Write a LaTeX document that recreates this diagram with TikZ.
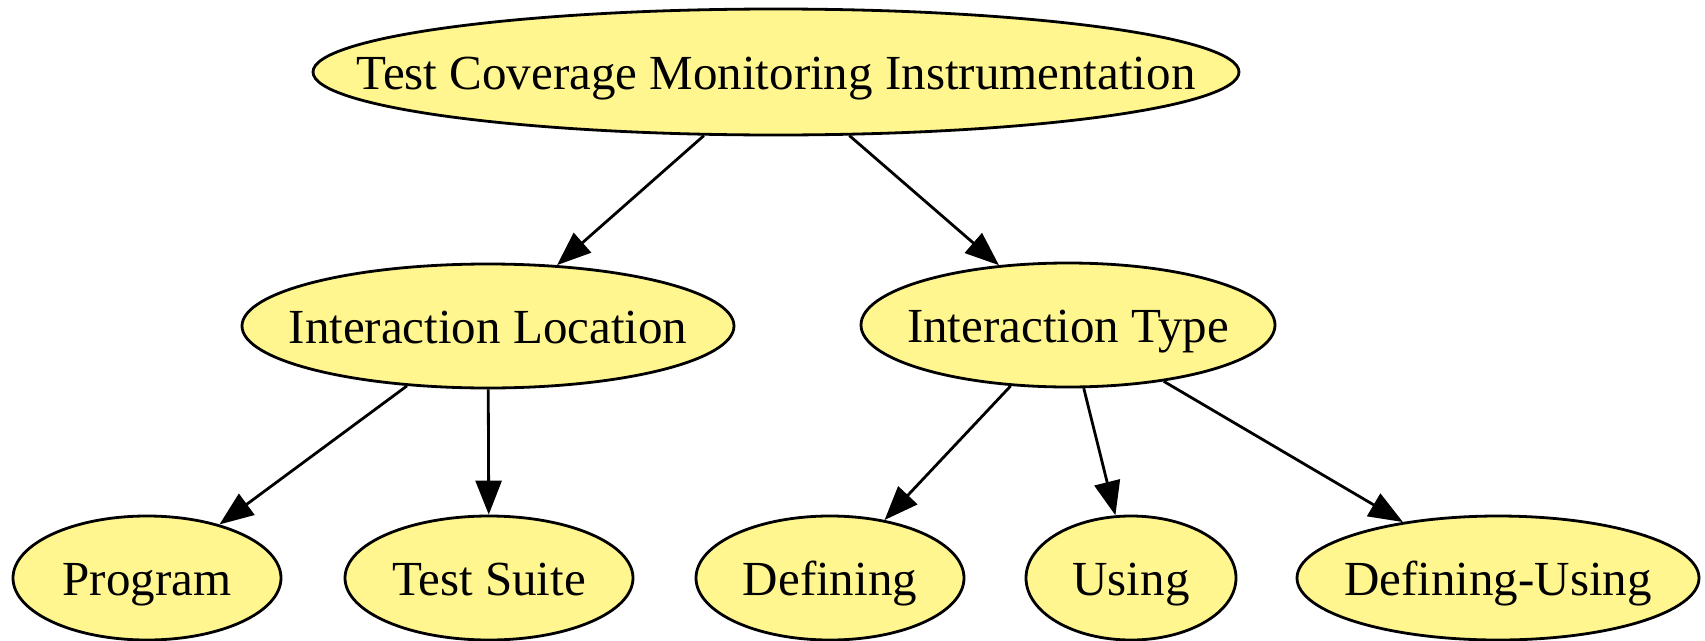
\documentclass[tikz,border=0pt]{standalone}
\usepackage{fontspec}
\setmainfont{Liberation Serif}
\usetikzlibrary{shapes.geometric,arrows.meta}
\definecolor{nodefill}{HTML}{FFF68F}
\tikzset{
  oval/.style n args={2}{ellipse, draw=black, line width=2.8pt, fill=nodefill,
    inner sep=0pt, minimum width=#1, minimum height=#2},
  lbl/.style={font=\fontsize{49}{59}\selectfont, inner sep=0pt, anchor=base},
  edge/.style={draw=black, line width=2.8pt,
    -{Triangle[length=34pt,width=26pt]}},
}
\begin{document}
\begin{tikzpicture}[x=1pt,y=-1pt]
\useasboundingbox (0,0) rectangle (1705,640);
% nodes: ellipse outline, then its text set on a common baseline
\node[oval={926pt}{126pt}] (root) at (776,72) {};
\node[lbl] at ([yshift=-17pt]root.center) {Test Coverage Monitoring Instrumentation};
\node[oval={492pt}{124pt}] (loc) at (488,326) {};
\node[lbl] at ([yshift=-17pt]loc.center) {Interaction Location};
\node[oval={414pt}{124pt}] (type) at (1068,325) {};
\node[lbl] at ([yshift=-17pt]type.center) {Interaction Type};
\node[oval={268pt}{124pt}] (prog) at (147,578) {};
\node[lbl] at ([yshift=-17pt]prog.center) {Program};
\node[oval={288pt}{124pt}] (suite) at (489,578) {};
\node[lbl] at ([yshift=-17pt]suite.center) {Test Suite};
\node[oval={268pt}{124pt}] (def) at (830,578) {};
\node[lbl] at ([yshift=-17pt]def.center) {Defining};
\node[oval={210pt}{124pt}] (use) at (1131,578) {};
\node[lbl] at ([yshift=-17pt]use.center) {Using};
\node[oval={402pt}{124pt}] (defuse) at (1498,578) {};
\node[lbl] at ([yshift=-17pt]defuse.center) {Defining-Using};
% connectors
\draw[edge] (root) -- (loc);
\draw[edge] (root) -- (type);
\draw[edge] (loc) -- (prog);
\draw[edge] (loc) -- (suite);
\draw[edge] (type) -- (def);
\draw[edge] (type) -- (use);
\draw[edge] (type) -- (defuse);
\end{tikzpicture}
\end{document}
